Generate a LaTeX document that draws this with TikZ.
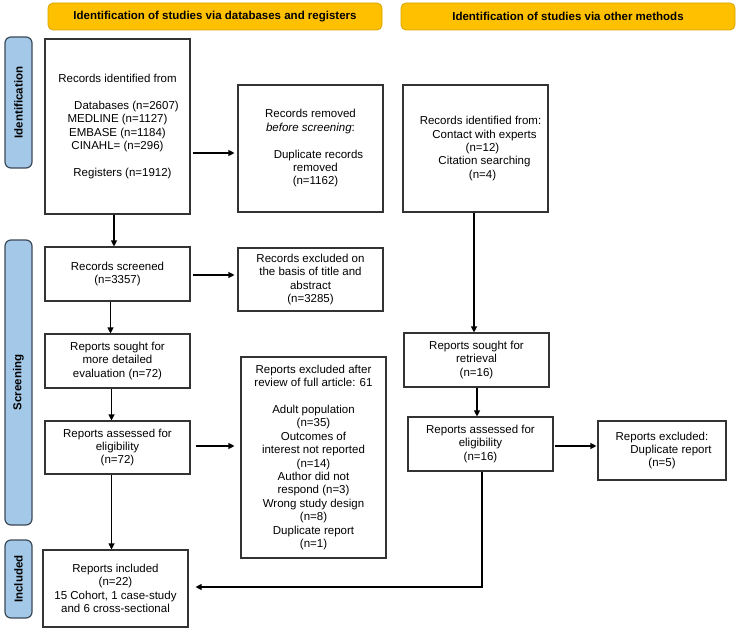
\documentclass[tikz,border=0pt]{standalone}
\usepackage{fontspec}
\setmainfont{Liberation Sans}
\usetikzlibrary{arrows.meta,calc}
\definecolor{hdrfill}{HTML}{FFC000}
\definecolor{hdrdraw}{HTML}{D9A300}
\definecolor{sidefill}{HTML}{A4C8E8}
\definecolor{sidedraw}{HTML}{3C4A58}
\definecolor{boxdraw}{HTML}{333333}
\begin{document}
\begin{tikzpicture}[x=1pt,y=-1pt,
  every node/.style={font=\fontsize{11.5}{13.4}\selectfont},
  box/.style={draw=boxdraw,line width=1.1pt,fill=white,align=center,inner sep=0pt,minimum width=145pt},
  hdr/.style={draw=hdrdraw,fill=hdrfill,rounded corners=5pt,line width=0.8pt,minimum width=334pt,minimum height=27pt,inner sep=0pt,font=\fontsize{11.5}{13.4}\selectfont\bfseries},
  side/.style={draw=sidedraw,fill=sidefill,rounded corners=6pt,line width=1.2pt,rotate=90,minimum height=27pt,inner sep=0pt,font=\fontsize{11.5}{13.4}\selectfont\bfseries},
  arr/.style={draw=black,line width=1.1pt,-{Triangle[length=6pt,width=6pt]}}]
\useasboundingbox (0,0) rectangle (738,628);

% headers
\node[hdr] (h1) at (215,16.5) {Identification of studies via databases and registers};
\node[hdr] (h2) at (568,16.5) {Identification of studies via other methods};

% side bars
\node[side,minimum width=131pt] (s1) at (18.5,102.5) {Identification};
\node[side,minimum width=285pt] (s2) at (18.5,382.5) {Screening};
\node[side,minimum width=78pt] (s3) at (18.5,579) {Included};

% boxes
\node[box,minimum height=175pt] (A) at (117.5,126.5) {Records identified from\\[13.4pt]
\hspace*{18pt}Databases (n=2607)\\MEDLINE (n=1127)\\EMBASE (n=1184)\\CINAHL= (n=296)\\[13.4pt]
\hspace*{10pt}Registers (n=1912)};
\node[box,minimum height=127pt] (B) at (310.5,148.5) {Records removed\\\textit{before screening}:\\[13.4pt]
\hspace*{16pt}Duplicate records\\\hspace*{10pt}removed\\\hspace*{10pt}(n=1162)};
\node[box,minimum height=127pt] (C) at (475.5,148.5) {\hspace*{10pt}Records identified from:\\
\hspace*{18pt}Contact with experts\\\hspace*{14pt}(n=12)\\\hspace*{18pt}Citation searching\\\hspace*{14pt}(n=4)};
\node[box,minimum height=54pt] (D) at (117.5,274) {Records screened\\(n=3357)};
\node[box,minimum height=63pt] (E) at (310.5,279.5) {Records excluded on\\the basis of title and\\abstract\\(n=3285)};
\node[box,minimum height=54pt] (F) at (117.5,361) {Reports sought for\\more detailed\\evaluation (n=72)};
\node[box,minimum height=53pt] (G) at (117.5,447.5) {Reports assessed for\\eligibility\\(n=72)};
\node[box,minimum height=201pt] (H) at (313.5,457.5) {Reports excluded after\\review of full article: 61\\[13.4pt]
Adult population\\(n=35)\\Outcomes of\\interest not reported\\(n=14)\\Author did not\\respond (n=3)\\Wrong study design\\(n=8)\\Duplicate report\\(n=1)};
\node[box,minimum height=77pt] (I) at (115.5,588.5) {Reports included\\(n=22)\\15 Cohort, 1 case-study\\and 6 cross-sectional};
\node[box,minimum height=54pt] (K) at (476.5,360) {Reports sought for\\retrieval\\(n=16)};
\node[box,minimum height=54pt] (J) at (480.5,444) {Reports assessed for\\eligibility\\(n=16)};
\node[box,minimum width=128pt,minimum height=59pt] (L) at (662,450.5) {Reports excluded:\\\hspace*{18pt}Duplicate report\\(n=5)};

% connectors
\draw[arr] ($(A.east)+(2,26.5)$) -- ($(B.west)+(-3,4.5)$);
\draw[arr] ($(A.south)+(-3.5,0)$) -- ($(D.north)+(-3.5,0)$);
\draw[arr] ($(D.east)+(2,1)$) -- ($(E.west)+(-3,-4.5)$);
\draw[arr] ($(D.south)+(-7,0)$) -- ($(F.north)+(-7,0)$);
\draw[arr] ($(F.south)+(-6,0)$) -- ($(G.north)+(-6,0)$);
\draw[arr] ($(G.east)+(5,-1.5)$) -- ($(H.west)+(-6,-11.5)$);
\draw[arr] ($(G.south)+(-6,0)$) -- ($(I.north)+(-4,0)$);
\draw[arr] ($(C.south)+(-1.5,0)$) -- ($(K.north)+(-2.5,0)$);
\draw[arr] ($(K.south)+(0.5,0)$) -- ($(J.north)+(-3.5,0)$);
\draw[arr] ($(J.east)+(1,2)$) -- ($(L.west)+(-1,-4.5)$);
\draw[arr] ($(J.south)+(1.5,0)$) |- ($(I.east)+(7,-1.5)$);
\end{tikzpicture}
\end{document}
